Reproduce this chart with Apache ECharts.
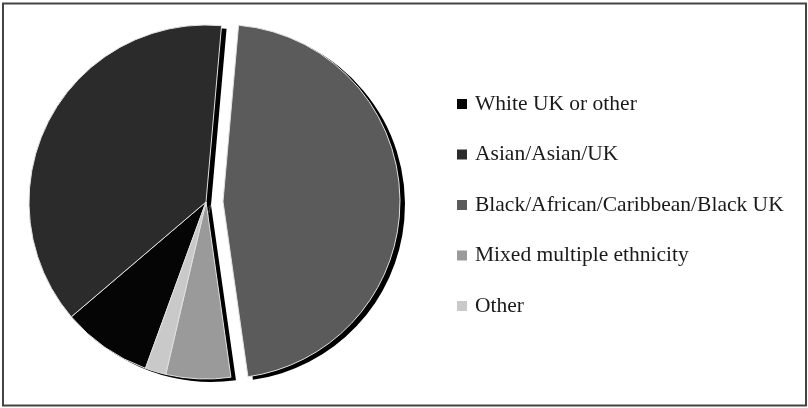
<!DOCTYPE html>
<html>
<head>
<meta charset="utf-8">
<script src="https://cdn.jsdelivr.net/npm/echarts@6/dist/echarts.min.js"></script>
<style>html,body{margin:0;padding:0;background:#fff;}#c{width:808px;height:408px;}</style>
</head>
<body>
<div id="c"></div>
<script>
const categories = ['White UK or other', 'Asian/Asian/UK', 'Black/African/Caribbean/Black UK', 'Mixed multiple ethnicity', 'Other'];
const values = [8.2, 37.6, 46.3, 5.9, 1.9];
const colors = ['#050505', '#2b2b2b', '#5b5b5b', '#9a9a9a', '#c9c9c9'];
const explodedIndex = 2;

const chart = echarts.init(document.getElementById('c'), null, {renderer: 'canvas'});
const mainData = categories.map((n, i) => ({
  name: n, value: values[i], selected: i === explodedIndex,
  itemStyle: {color: colors[i]}
}));
const shadowData = categories.map((n, i) => ({
  name: 'shadow-' + i, value: values[i], selected: i === explodedIndex,
  itemStyle: {color: '#000'}
}));
const common = {
  type: 'pie', radius: 177, startAngle: 250, clockwise: true,
  selectedMode: 'single', selectedOffset: 17,
  label: {show: false}, labelLine: {show: false},
  emphasis: {disabled: true}, silent: true, avoidLabelOverlap: false
};
chart.setOption({
  animation: false,
  backgroundColor: '#fff',
  graphic: [{
    type: 'rect', shape: {x: 3, y: 3.5, width: 803, height: 402},
    style: {fill: 'none', stroke: '#444', lineWidth: 2}, z: 100
  }],
  legend: {
    orient: 'vertical', left: 452, top: 88,
    data: categories,
    icon: 'rect', itemWidth: 10, itemHeight: 10, itemGap: 28.5,
    selectedMode: false,
    itemStyle: {borderWidth: 0},
    textStyle: {fontFamily: 'Liberation Serif', fontSize: 21.5, color: '#1a1a1a', lineHeight: 20, padding: [0, 0, 0, 3]}
  },
  series: [
    Object.assign({}, common, {
      name: 'main', center: [206, 202], data: mainData, z: 3,
      itemStyle: {borderColor: '#e2e2e2', borderWidth: 1}
    }),
    Object.assign({}, common, {
      name: 'shadow', center: [211, 205], data: shadowData, z: 1,
      itemStyle: {borderWidth: 0}
    })
  ]
});
</script>
</body>
</html>
